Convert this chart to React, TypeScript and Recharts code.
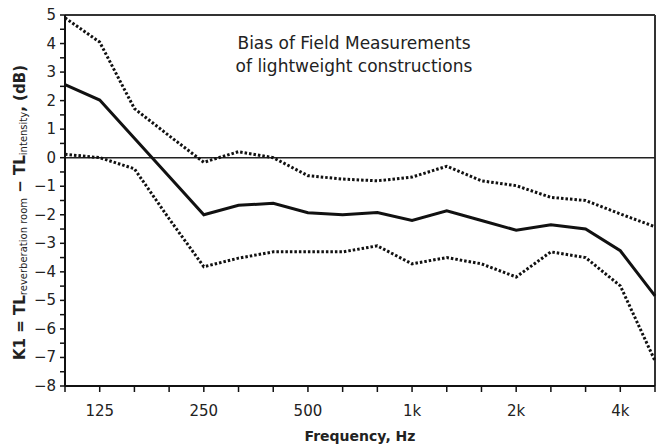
import React from "react";
import { LineChart, Line, XAxis, YAxis, ReferenceLine } from "recharts";

const freqs = ["100", "125", "160", "200", "250", "315", "400", "500", "630", "800", "1000", "1250", "1600", "2000", "2500", "3150", "4000", "5000"];
const meanBias = [2.56, 2.02, 0.68, -0.66, -2.0, -1.67, -1.6, -1.93, -2.0, -1.92, -2.2, -1.86, -2.2, -2.54, -2.35, -2.5, -3.26, -4.84];
const upperBound = [4.9, 4.05, 1.72, 0.77, -0.16, 0.21, 0.0, -0.63, -0.75, -0.81, -0.68, -0.3, -0.81, -0.98, -1.39, -1.5, -1.97, -2.42];
const lowerBound = [0.12, 0.0, -0.39, -2.14, -3.82, -3.52, -3.3, -3.3, -3.3, -3.09, -3.72, -3.5, -3.72, -4.18, -3.3, -3.5, -4.49, -7.12];
const labelledFreqs = ["125", "250", "500", "1000", "2000", "4000"];
const yTicks = [-8, -7.5, -7, -6.5, -6, -5.5, -5, -4.5, -4, -3.5, -3, -2.5, -2, -1.5, -1, -0.5, 0, 0.5, 1, 1.5, 2, 2.5, 3, 3.5, 4, 4.5, 5];

const data = freqs.map((f, i) => ({ f, mean: meanBias[i], upper: upperBound[i], lower: lowerBound[i] }));

const FONT = "'DejaVu Sans', Verdana, sans-serif";

function fmtFreq(f: string) {
  if (!labelledFreqs.includes(f)) return "";
  const n = Number(f);
  return n >= 1000 ? `${n / 1000}k` : f;
}

function YTick(props: any) {
  const { x, y, payload } = props;
  const v = payload.value;
  if (!Number.isInteger(v)) return <g />;
  return (
    <text x={x} y={y} dy={5} textAnchor="end" fontSize={15} fill="#222" fontFamily={FONT}>
      {v < 0 ? `\u2212${-v}` : v}
    </text>
  );
}

function YLabel(props: any) {
  const vb = props.viewBox;
  const cx = 20;
  const cy = vb.y + vb.height / 2 + 12;
  return (
    <text
      x={cx}
      y={cy}
      transform={`rotate(-90, ${cx}, ${cy})`}
      textAnchor="middle"
      dominantBaseline="central"
      fontFamily={FONT}
      fill="#222"
      fontSize={15}
      fontWeight="bold"
    >
      <tspan>K1 = TL</tspan>
      <tspan fontSize={10} fontWeight="normal" dy={3}>reverberation room</tspan>
      <tspan dy={-3}> {"\u2212"} TL</tspan>
      <tspan fontSize={10} fontWeight="normal" dy={3}>intensity</tspan>
      <tspan dy={-3}>, (dB)</tspan>
    </text>
  );
}

export default function App() {
  return (
    <div style={{ width: 660, height: 447, background: "#fff", position: "relative" }}>
      <style>{"body{margin:0}"}</style>
      <LineChart width={660} height={447} data={data} margin={{ top: 15, right: 5, left: 0, bottom: 0 }}>
        <XAxis
          dataKey="f"
          interval={0}
          height={61}
          tickFormatter={fmtFreq}
          tickSize={6}
          tickMargin={13}
          axisLine={{ stroke: "#111", strokeWidth: 2 }}
          tickLine={{ stroke: "#111", strokeWidth: 1.5 }}
          tick={{ fontSize: 15, fill: "#222", fontFamily: FONT }}
          label={{ value: "Frequency, Hz", position: "insideBottom", offset: 6, fontSize: 14, fontWeight: "bold", fill: "#222", fontFamily: FONT }}
        />
        <YAxis
          domain={[-8, 5]}
          ticks={yTicks}
          interval={0}
          width={65}
          tickSize={5}
          tickMargin={4}
          axisLine={{ stroke: "#111", strokeWidth: 2 }}
          tickLine={{ stroke: "#111", strokeWidth: 1.5 }}
          tick={<YTick />}
          label={{ content: <YLabel /> }}
        />
        <ReferenceLine y={5} stroke="#333" strokeWidth={2} />
        <ReferenceLine x="5000" stroke="#333" strokeWidth={2} />
        <ReferenceLine y={0} stroke="#222" strokeWidth={1.5} />
        <Line dataKey="upper" stroke="#111" strokeWidth={3} strokeDasharray="2.5 2" dot={false} isAnimationActive={false} />
        <Line dataKey="lower" stroke="#111" strokeWidth={3} strokeDasharray="2.5 2" dot={false} isAnimationActive={false} />
        <Line dataKey="mean" stroke="#111" strokeWidth={3} dot={false} isAnimationActive={false} />
      </LineChart>
      <div
        style={{
          position: "absolute",
          left: 194,
          top: 32,
          width: 320,
          textAlign: "center",
          fontFamily: FONT,
          fontSize: 17,
          lineHeight: "23px",
          color: "#222",
        }}
      >
        Bias of Field Measurements
        <br />
        of lightweight constructions
      </div>
    </div>
  );
}
